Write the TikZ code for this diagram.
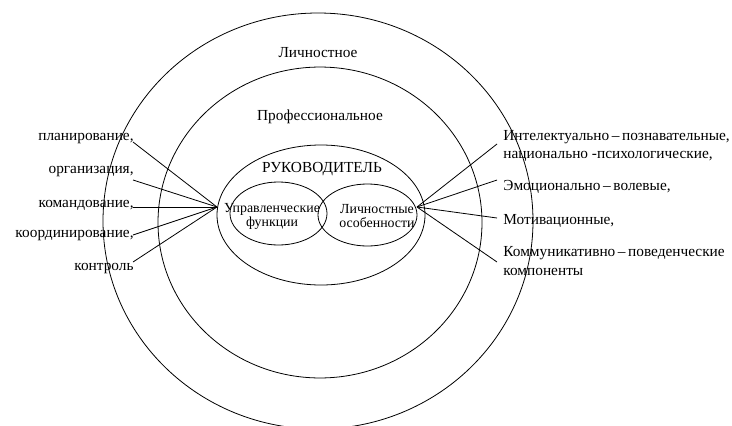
\documentclass[tikz,border=0pt]{standalone}
\usepackage{fontspec}
\setmainfont{Liberation Serif}
\usetikzlibrary{shapes.geometric}
\tikzset{ring/.style={draw, ellipse, inner sep=0pt}}
\tikzset{lbl/.style={font=\fontsize{11.5}{13.6}\selectfont, inner sep=0pt}}
\tikzset{inlbl/.style={font=\fontsize{10.4}{10.5}\selectfont, align=center, inner sep=0pt}}
\tikzset{ray/.style={line width=0.6pt}}

\begin{document}
\begin{tikzpicture}[x=0.75pt, y=-0.75pt, line width=0.6pt]
            \useasboundingbox (0, 0) rectangle (732, 425);
            % rings
            \draw (318, 221) ellipse [x radius=161.25pt, y radius=156pt];
            \draw (320, 222.5) ellipse [x radius=121.5pt, y radius=116.6pt];
            \node[ring, minimum width=156pt, minimum height=105pt] (head) at (321, 215) {};
            \node[ring, minimum width=72.75pt, minimum height=47.25pt] (func) at (278.5, 213.5) {};
            \node[ring, minimum width=74.25pt, minimum height=46.5pt] (pers) at (367.5, 215) {};
            \node[lbl] (outer) at (318, 53) {Личностное};
            \node[lbl] (prof) at (320, 117) {Профессиональное};
            \node[lbl] (ruk) at (322, 169) {РУКОВОДИТЕЛЬ};
            \node[inlbl] at (272, 216) {Управленческие\\функции};
            \node[inlbl] at (377, 216) {Личностные\\особенности};
            % left side
            \coordinate (lhub) at (217, 207);
            \node[lbl, anchor=east] (plan) at (134, 139) {планирование,};
            \node[lbl, anchor=east] (org) at (134, 172) {организация,};
            \node[lbl, anchor=east] (kom) at (134, 205) {командование,};
            \node[lbl, anchor=east] (koord) at (134, 236) {координирование,};
            \node[lbl, anchor=east] (kontr) at (134, 269) {контроль};
            \coordinate (plan-e) at (133, 142);
            \coordinate (org-e) at (133, 180);
            \coordinate (kom-e) at (133, 207);
            \coordinate (koord-e) at (133, 235);
            \coordinate (kontr-e) at (133, 262);
            \foreach \n in {plan, org, kom, koord, kontr}
                \draw[ray] (\n-e) -- (lhub);
            % right side
            \coordinate (rhub) at (417, 207);
            \node[lbl, anchor=west, align=left] (intel) at (503, 146) {Интелектуально\,–\,познавательные,\\национально -психологические,};
            \node[lbl, anchor=west] (emo) at (503, 187) {Эмоционально\,–\,волевые,};
            \node[lbl, anchor=west] (mot) at (503, 221) {Мотивационные,};
            \node[lbl, anchor=west, align=left] (komm) at (503, 261) {Коммуникативно\,–\,поведенческие\\компоненты};
            \coordinate (intel-w) at (497, 144);
            \coordinate (emo-w) at (497, 180);
            \coordinate (mot-w) at (497, 218);
            \coordinate (komm-w) at (497, 262);
            \foreach \n in {intel, emo, mot, komm}
                \draw[ray] (rhub) -- (\n-w);
        \end{tikzpicture}
\end{document}
